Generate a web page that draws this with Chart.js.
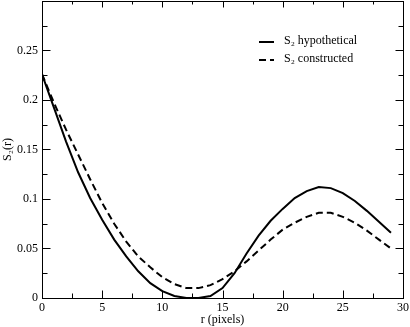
<!DOCTYPE html>
<html>
<head>
<meta charset="utf-8">
<script src="https://cdn.jsdelivr.net/npm/chart.js@4.4.1/dist/chart.umd.min.js"></script>
<style>
  html, body { margin: 0; padding: 0; background: #fff; }
  #wrap { width: 410px; height: 327px; }
</style>
</head>
<body>
<div id="wrap"><canvas id="s2Chart" width="410" height="327"></canvas></div>
<script>
const rValues = [0, 1, 2, 3, 4, 5, 6, 7, 8, 9, 10, 11, 12, 13, 14, 15, 16, 17, 18, 19, 20, 21, 22, 23, 24, 25, 26, 27, 28, 29];
const s2Hypothetical = [0.226, 0.192, 0.158, 0.127, 0.101, 0.079, 0.059, 0.042, 0.027, 0.015, 0.007, 0.002, 0.000, 0.000, 0.002, 0.010, 0.025, 0.045, 0.063, 0.078, 0.090, 0.101, 0.108, 0.112, 0.111, 0.106, 0.098, 0.088, 0.077, 0.066];
const s2Constructed = [0.226, 0.197, 0.170, 0.145, 0.120, 0.096, 0.075, 0.057, 0.042, 0.031, 0.021, 0.014, 0.010, 0.010, 0.013, 0.019, 0.027, 0.037, 0.048, 0.059, 0.069, 0.076, 0.082, 0.086, 0.086, 0.082, 0.076, 0.068, 0.059, 0.050];
const xTicks = [0, 5, 10, 15, 20, 25, 30];
const yTicks = [0, 0.05, 0.1, 0.15, 0.2, 0.25];
const seriesNames = ["S\u2082 hypothetical", "S\u2082 constructed"];

const serif = "'Liberation Serif', 'DejaVu Serif', serif";

// inward ticks on all four sides plus the frame
const frameTicks = {
  id: "frameTicks",
  afterDatasetsDraw(chart) {
    const ctx = chart.ctx;
    const a = chart.chartArea;
    const xs = chart.scales.x, ys = chart.scales.y;
    const L = Math.round(a.left) + 0.5, R = Math.round(a.right) + 0.5;
    const T = Math.round(a.top) + 0.5, B = Math.round(a.bottom) + 0.5;
    ctx.save();
    ctx.strokeStyle = "#000";
    ctx.lineWidth = 1;
    ctx.beginPath();
    for (let v = 0; v <= 30; v += 2.5) {
      const len = v % 5 === 0 ? 8 : 5;
      const px = Math.round(xs.getPixelForValue(v)) + 0.5;
      ctx.moveTo(px, B); ctx.lineTo(px, B - len);
      ctx.moveTo(px, T); ctx.lineTo(px, T + len - 2);
    }
    for (let i = 0; i <= 12; i++) {
      const v = i * 0.025;
      const len = i % 2 === 0 ? 8 : 5;
      const py = Math.round(ys.getPixelForValue(v)) + 0.5;
      ctx.moveTo(L, py); ctx.lineTo(L + len, py);
      ctx.moveTo(R, py); ctx.lineTo(R - len, py);
    }
    ctx.stroke();
    ctx.strokeRect(L, T, R - L, B - T);
    ctx.restore();
  }
};

// legend drawn inside the plot, top right
const innerLegend = {
  id: "innerLegend",
  afterDraw(chart) {
    const ctx = chart.ctx;
    ctx.save();
    ctx.font = "12px " + serif;
    ctx.fillStyle = "#000";
    ctx.textBaseline = "middle";
    chart.data.datasets.forEach((ds, i) => {
      const y = 42 + i * 18;
      ctx.strokeStyle = "#000";
      ctx.lineWidth = 2;
      ctx.setLineDash(ds.borderDash || []);
      ctx.beginPath();
      ctx.moveTo(259, y); ctx.lineTo(274, y);
      ctx.stroke();
      ctx.setLineDash([]);
      ctx.fillText(ds.label, 284, y - 1);
    });
    ctx.restore();
  }
};

const config = {
  type: "line",
  data: {
    datasets: [
      {
        label: seriesNames[0],
        data: rValues.map((r, i) => ({ x: r, y: s2Hypothetical[i] })),
        borderColor: "#000",
        borderWidth: 2,
        pointRadius: 0,
        tension: 0,
        fill: false
      },
      {
        label: seriesNames[1],
        data: rValues.map((r, i) => ({ x: r, y: s2Constructed[i] })),
        borderColor: "#000",
        borderWidth: 2,
        borderDash: [7, 4],
        pointRadius: 0,
        tension: 0,
        fill: false
      }
    ]
  },
  options: {
    responsive: false,
    animation: false,
    layout: { padding: { top: 1, right: 7, left: 0, bottom: 0 } },
    plugins: {
      legend: { display: false },
      tooltip: { enabled: false }
    },
    scales: {
      x: {
        type: "linear",
        min: 0,
        max: 30,
        afterBuildTicks(scale) { scale.ticks = xTicks.map(v => ({ value: v })); },
        afterFit(scale) { scale.height = 29; scale.paddingLeft = 0; scale.paddingRight = 0; },
        grid: { display: false, drawTicks: false },
        border: { display: false },
        ticks: { color: "#000", padding: 3, maxRotation: 0, font: { family: serif, size: 12 } },
        title: { display: true, text: "r (pixels)", color: "#000", padding: 0, font: { family: serif, size: 12 } }
      },
      y: {
        type: "linear",
        min: 0,
        max: 0.3,
        afterBuildTicks(scale) { scale.ticks = yTicks.map(v => ({ value: v })); },
        afterFit(scale) { scale.width = 42; scale.paddingTop = 0; scale.paddingBottom = 0; },
        grid: { display: false, drawTicks: false },
        border: { display: false },
        ticks: {
          color: "#000",
          padding: 4,
          font: { family: serif, size: 12 },
          callback: v => String(Math.round(v * 100) / 100)
        },
        title: { display: true, text: "S\u2082(r)", color: "#000", padding: { top: 1, bottom: 0 }, font: { family: serif, size: 12 } }
      }
    }
  },
  plugins: [frameTicks, innerLegend]
};

new Chart(document.getElementById("s2Chart").getContext("2d"), config);
</script>
</body>
</html>
